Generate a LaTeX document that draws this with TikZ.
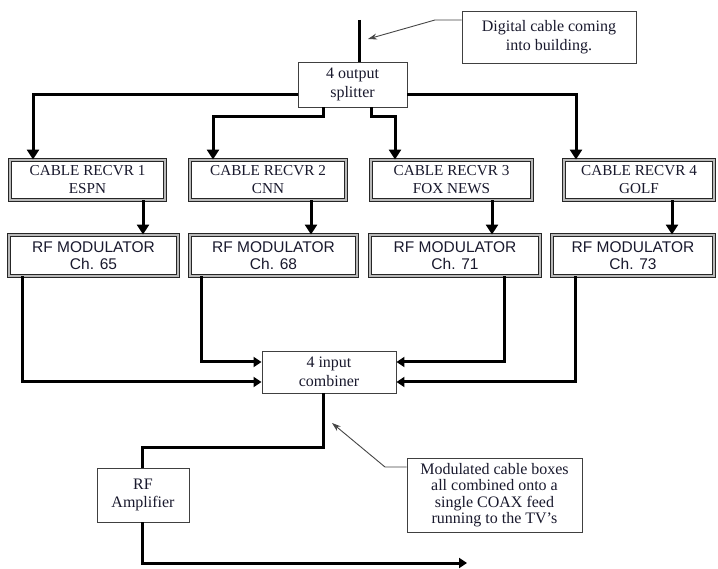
\documentclass[tikz,border=0pt]{standalone}
\usepackage{fontspec}
\setmainfont{Liberation Serif}
\setsansfont{Liberation Sans}
\usetikzlibrary{arrows.meta}
\definecolor{txt}{RGB}{25,25,45}
\begin{document}
\begin{tikzpicture}[x=1pt,y=-1pt,
  plainbox/.style={draw=black!75, line width=0.9pt, fill=white, align=center, inner sep=0pt, text=txt,
    font=\fontsize{16}{18.5}\selectfont},
  dblbox/.style={draw=black!85, line width=0.9pt, double=gray!55, double distance=2pt, align=center,
    inner sep=0pt, text=txt},
  recv/.style={dblbox, minimum height=40pt, font=\fontsize{15.2}{18}\selectfont},
  modu/.style={dblbox, minimum height=41pt, font=\sffamily\fontsize{15.5}{17.5}\selectfont},
  wire/.style={line width=3pt},
  arr/.style={wire, -{Triangle[length=10pt,width=12pt]}},
  sarr/.style={wire, -{Triangle[length=8pt,width=10pt]}},
  leader/.style={draw=gray!55!black, line width=0.9pt, -{Stealth[length=9pt,width=6pt]}}
]
\useasboundingbox (0,0) rectangle (718,569);
\fill[white] (0,0) rectangle (718,569);

% nodes
\node[plainbox, minimum width=174pt, minimum height=52pt] (note1) at (549,37) {Digital cable coming\\into building.};
\node[plainbox, minimum width=109pt, minimum height=45pt] (split) at (352.5,84.5) {4 output\\splitter};

\node[recv, minimum width=155pt] (r1) at (87.5,180) {CABLE RECVR 1\\ESPN};
\node[recv, minimum width=156pt] (r2) at (268,180) {CABLE RECVR 2\\CNN};
\node[recv, minimum width=161pt] (r3) at (451.5,180) {CABLE RECVR 3\\FOX NEWS};
\node[recv, minimum width=150pt] (r4) at (639,180) {CABLE RECVR 4\\GOLF};

\node[modu, minimum width=169pt] (m1) at (93.5,255.5) {RF MODULATOR\\Ch. 65};
\node[modu, minimum width=167pt] (m2) at (273.5,255.5) {RF MODULATOR\\Ch. 68};
\node[modu, minimum width=170pt] (m3) at (455,255.5) {RF MODULATOR\\Ch. 71};
\node[modu, minimum width=162pt] (m4) at (633,255.5) {RF MODULATOR\\Ch. 73};

\node[plainbox, minimum width=134pt, minimum height=42pt] (comb) at (329,372) {4 input\\combiner};
\node[plainbox, minimum width=92pt, minimum height=54pt] (amp) at (143,495) {RF\\Amplifier};
\node[plainbox, minimum width=175pt, minimum height=74pt, font=\fontsize{16}{16.5}\selectfont] (note2) at (494.5,495)
  {Modulated cable boxes\\all combined onto a\\single COAX feed\\running to the TV’s};

% bend points
\coordinate (in) at (359,20);
\coordinate (b1) at (33,95);
\coordinate (b4) at (576,95);
\coordinate (s2) at (323,117);
\coordinate (b2) at (213,117);
\coordinate (s3) at (371,117);
\coordinate (b3) at (395,117);
\coordinate (a1) at (143,0);
\coordinate (a2) at (311,0);
\coordinate (a3) at (492,0);
\coordinate (a4) at (672,0);
\coordinate (c1) at (22,382);
\coordinate (c2) at (201,362);
\coordinate (c3) at (504,362);
\coordinate (c4) at (575,382);
\coordinate (o1) at (323,447);
\coordinate (o2) at (142,447);
\coordinate (o3) at (142,563);
\coordinate (out) at (467,563);
\coordinate (n1a) at (435,20);
\coordinate (n1t) at (368,39);
\coordinate (n2a) at (385,467);
\coordinate (n2t) at (332,423);

% input and splitter outputs
\draw[wire] (in) -- (split.north -| in);
\draw[arr] (split.west |- b1) -- (b1) -- (r1.north -| b1);
\draw[arr] (split.east |- b4) -- (b4) -- (r4.north -| b4);
\draw[arr] (split.south -| s2) -- (s2) -- (b2) -- (r2.north -| b2);
\draw[arr] (split.south -| s3) -- (s3) -- (b3) -- (r3.north -| b3);

% receivers to modulators
\draw[arr] (r1.south -| a1) -- (m1.north -| a1);
\draw[arr] (r2.south -| a2) -- (m2.north -| a2);
\draw[arr] (r3.south -| a3) -- (m3.north -| a3);
\draw[arr] (r4.south -| a4) -- (m4.north -| a4);

% modulators to combiner
\draw[sarr] (m1.south -| c1) -- (c1) -- (comb.west |- c1);
\draw[sarr] (m2.south -| c2) -- (c2) -- (comb.west |- c2);
\draw[sarr] (m3.south -| c3) -- (c3) -- (comb.east |- c3);
\draw[sarr] (m4.south -| c4) -- (c4) -- (comb.east |- c4);

% combiner to amplifier and out
\draw[wire] (comb.south -| o1) -- (o1) -- (o2) -- (amp.north -| o2);
\draw[sarr] (amp.south -| o3) -- (o3) -- (out);

% leaders
\draw[leader] (note1.west |- n1a) -- (n1a) -- (n1t);
\draw[leader] (note2.west |- n2a) -- (n2a) -- (n2t);
\end{tikzpicture}
\end{document}
